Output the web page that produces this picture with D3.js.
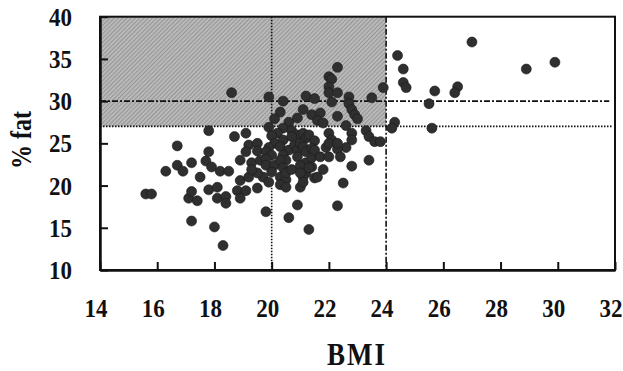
<!DOCTYPE html>
<html>
<head>
<meta charset="utf-8">
<script src="https://cdn.jsdelivr.net/npm/d3@7"></script>
<style>
  body { margin: 0; background: #fff; }
  svg { display: block; }
  text { font-family: "Liberation Serif", "Times New Roman", serif; font-weight: bold; fill: #111; }
</style>
</head>
<body>
<svg id="chart" width="623" height="371"></svg>
<script>
// BMI / % fat pairs
const bmi = [
  15.6, 15.8, 16.3, 16.7, 16.7, 16.9, 17.1, 17.2, 17.4, 17.2, 17.2, 17.5, 17.7, 17.9, 17.8, 17.8,
  17.8, 18.1, 18.0, 18.1, 18.4, 18.4, 18.2, 18.5, 18.3, 18.6, 18.7, 19.1, 18.9, 18.8, 19.1, 18.9,
  18.9, 19.5, 19.8, 20.6, 20.9, 21.3, 21.0, 21.5, 21.8, 22.3, 22.5, 22.8, 23.4,
  19.9, 20.4, 21.2, 21.5, 22.3, 22.0, 22.1, 22.0, 22.0, 22.3, 22.7, 22.1, 22.7, 22.8, 22.9, 23.0,
  23.5, 23.9, 22.3, 22.6, 23.3, 23.4, 23.6, 23.8, 24.3, 24.2,
  24.4, 24.6, 24.6, 24.7, 25.7, 26.5, 26.4, 25.5, 25.6, 27.0, 28.9, 29.9,
  22.8, 22.8, 22.6,
  21.1, 20.3, 20.1, 20.6, 20.9, 21.4, 21.7, 21.6, 21.8, 19.9, 20.4, 20.7, 20.9, 21.1, 21.2, 21.3,
  20.2, 20.0, 20.4, 20.7, 21.5, 20.1, 19.9, 20.3, 20.6, 20.8, 20.9, 21.0, 21.1, 21.2, 21.4,
  19.2, 19.5, 19.1, 19.5, 19.3, 19.8, 20.0, 20.4, 20.5, 20.9, 21.2, 21.4,
  19.6, 19.8, 19.8, 20.1, 20.3, 20.4, 20.0, 20.3, 20.5, 19.7, 19.5, 19.2, 19.9, 20.3, 20.5,
  20.7, 21.0, 21.2, 21.4, 21.6, 19.3, 20.5, 21.1, 21.3, 21.1,
  22.0, 22.1, 21.9, 22.3, 22.0, 22.3, 21.5, 21.7, 22.0, 22.4, 21.0
]
const fat = [
  19.0, 19.0, 21.7, 22.4, 24.7, 21.7, 18.5, 19.3, 18.2, 22.7, 15.8, 21.0, 22.9, 22.2, 24.0, 26.5,
  19.5, 19.8, 15.1, 18.5, 18.7, 17.9, 21.7, 21.7, 12.9, 31.0, 25.8, 26.2, 20.6, 19.4, 19.4, 18.5,
  23.0, 19.7, 16.9, 16.2, 17.7, 14.8, 19.8, 20.9, 21.9, 17.6, 20.3, 22.3, 23.0,
  30.5, 30.0, 30.6, 30.3, 34.0, 32.9, 32.6, 31.7, 31.0, 31.0, 30.5, 29.9, 29.7, 29.0, 28.4, 27.9,
  30.4, 31.6, 28.2, 27.1, 26.5, 25.8, 25.2, 25.2, 27.5, 26.8,
  35.4, 33.8, 32.2, 31.6, 31.2, 31.7, 31.0, 29.7, 26.8, 37.0, 33.8, 34.6,
  26.2, 25.4, 24.5,
  29.0, 28.7, 27.9, 27.5, 28.0, 28.4, 28.6, 27.7, 27.4, 26.9, 26.8, 26.5, 26.0, 26.2, 25.6, 26.0,
  26.2, 25.9, 25.4, 25.8, 25.3, 25.0, 24.5, 24.6, 24.2, 24.8, 24.2, 25.0, 24.6, 24.0, 24.4,
  24.8, 25.0, 24.0, 24.1, 22.7, 24.0, 23.6, 23.6, 23.0, 23.4, 22.7, 23.3,
  23.0, 23.1, 22.4, 22.4, 23.0, 22.1, 21.6, 21.0, 20.7, 21.0, 21.5, 21.0, 20.4, 20.1, 21.5,
  21.9, 22.4, 21.5, 22.2, 21.0, 21.9, 19.8, 21.0, 22.1, 20.4,
  26.2, 25.4, 24.5, 24.3, 25.0, 25.0, 24.2, 23.4, 23.4, 23.4, 21.5
]

const xTicks = [14, 16, 18, 20, 22, 24, 26, 28, 30, 32]
const yTicks = [10, 15, 20, 25, 30, 35, 40]

// cut-off lines
const bmiCuts = [20, 24]
const fatCuts = [30, 27]

const svg = d3.select('#chart')

const x = d3.scaleLinear().domain([14, 32]).range([100, 615])
const y = d3.scaleLinear().domain([10, 40]).range([270, 16.7])

// texture for the shaded box
let defs = svg.append('defs')
let pat = defs.append('pattern')
  .attr('id', 'shade')
  .attr('width', 3).attr('height', 3)
  .attr('patternUnits', 'userSpaceOnUse')
  .attr('patternTransform', 'rotate(45)')
pat.append('rect').attr('width', 3).attr('height', 3).attr('fill', '#b9b9b9')
pat.append('line').attr('x1', 0).attr('y1', 0).attr('x2', 0).attr('y2', 3)
  .attr('stroke', '#7e7e7e').attr('stroke-width', 1.2)

svg.append('rect')
  .attr('x', x(14))
  .attr('y', y(40))
  .attr('width', x(bmiCuts[1]) - x(14))
  .attr('height', y(fatCuts[1]) - y(40))
  .attr('fill', 'url(#shade)')

// reference lines
svg.append('line')
  .attr('x1', x(bmiCuts[0])).attr('x2', x(bmiCuts[0]))
  .attr('y1', y(40)).attr('y2', y(10))
  .attr('stroke', '#111').attr('stroke-width', 1.6)
  .attr('stroke-dasharray', '1.5,1.5')

svg.append('line')
  .attr('x1', x(bmiCuts[1])).attr('x2', x(bmiCuts[1]))
  .attr('y1', y(40)).attr('y2', y(10))
  .attr('stroke', '#111').attr('stroke-width', 1.6)
  .attr('stroke-dasharray', '6,2,2,2')

svg.append('line')
  .attr('x1', x(14)).attr('x2', x(31.8))
  .attr('y1', y(fatCuts[0])).attr('y2', y(fatCuts[0]))
  .attr('stroke', '#111').attr('stroke-width', 1.8)
  .attr('stroke-dasharray', '6,2,2,2')

svg.append('line')
  .attr('x1', x(14)).attr('x2', x(31.9))
  .attr('y1', y(fatCuts[1])).attr('y2', y(fatCuts[1]))
  .attr('stroke', '#111').attr('stroke-width', 1.8)
  .attr('stroke-dasharray', '1.5,1.5')

// points
let pts = bmi.map((b, i) => ({bmi: b, fat: fat[i]}))
svg.append('g')
  .selectAll('circle')
  .data(pts)
  .join('circle')
  .attr('cx', d => x(d.bmi))
  .attr('cy', d => y(d.fat))
  .attr('r', 5)
  .attr('fill', '#2f2f2f')
  .attr('stroke', '#1a1a1a')
  .attr('stroke-width', 0.6)

// frame
svg.append('rect')
  .attr('x', x(14)).attr('y', y(40))
  .attr('width', x(32) - x(14)).attr('height', y(10) - y(40))
  .attr('fill', 'none').attr('stroke', '#111').attr('stroke-width', 2)

// axes, ticks pointing inward
let xAxis = svg.append('g')
  .attr('transform', `translate(0,${y(10)})`)
  .call(d3.axisBottom(x).tickValues(xTicks).tickSize(-8).tickSizeOuter(0).tickFormat(''))
let yAxis = svg.append('g')
  .attr('transform', `translate(${x(14)},0)`)
  .call(d3.axisLeft(y).tickValues(yTicks).tickSize(-8).tickSizeOuter(0).tickFormat(''))

for (let ax of [xAxis, yAxis]) {
  ax.select('.domain').attr('stroke', '#111').attr('stroke-width', 2.5)
  ax.selectAll('.tick line').attr('stroke', '#111').attr('stroke-width', 2)
}

// tick labels
svg.append('g')
  .selectAll('text')
  .data(xTicks)
  .join('text')
  .attr('transform', d => `translate(${x(d) - 4},317) scale(1,1.05)`)
  .attr('text-anchor', 'middle')
  .attr('font-size', 23)
  .text(d => d)

svg.append('g')
  .selectAll('text')
  .data(yTicks)
  .join('text')
  .attr('transform', d => `translate(72,${y(d) + 9}) scale(1,1.08)`)
  .attr('text-anchor', 'end')
  .attr('font-size', 23)
  .text(d => d)

// axis titles
svg.append('text')
  .attr('transform', 'translate(357,365) scale(1,1.15)')
  .attr('text-anchor', 'middle')
  .attr('font-size', 27)
  .attr('letter-spacing', 2)
  .text('BMI')

svg.append('text')
  .attr('transform', 'translate(31,140) rotate(-90) scale(1,1.2)')
  .attr('text-anchor', 'middle')
  .attr('font-size', 24)
  .text('% fat')
</script>
</body>
</html>
